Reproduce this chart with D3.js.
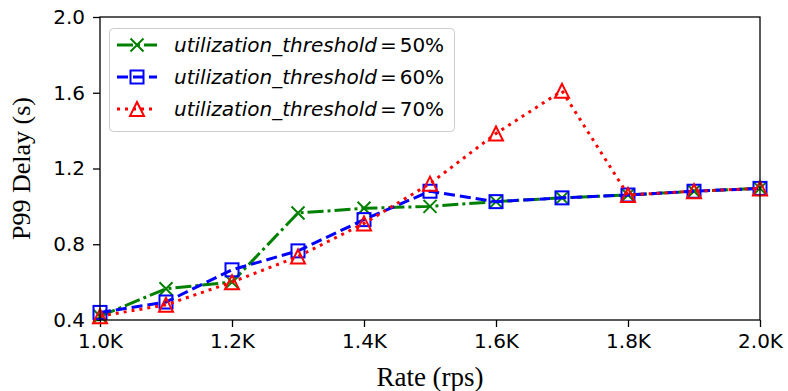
<!DOCTYPE html>
<html>
<head>
<meta charset="utf-8">
<script src="https://cdn.jsdelivr.net/npm/d3@7"></script>
<style>
  html, body { margin: 0; padding: 0; background: #fff; }
  svg { display: block; }
</style>
</head>
<body>
<svg id="chart" width="788" height="391"></svg>
<script>
// Request rate (K rps) on the x axis
const rates = [1.0, 1.1, 1.2, 1.3, 1.4, 1.5, 1.6, 1.7, 1.8, 1.9, 2.0];
// P99 delay (s) per utilization threshold
const delay50 = [0.42, 0.565, 0.60, 0.965, 0.99, 1.0, 1.025, 1.045, 1.06, 1.08, 1.095];
const delay60 = [0.44, 0.495, 0.665, 0.765, 0.93, 1.08, 1.025, 1.045, 1.06, 1.08, 1.095];
const delay70 = [0.42, 0.48, 0.60, 0.735, 0.91, 1.12, 1.385, 1.61, 1.06, 1.08, 1.095];
const seriesLabels = ["50%", "60%", "70%"];
const xTicks = [1.0, 1.2, 1.4, 1.6, 1.8, 2.0];
const yTicks = [0.4, 0.8, 1.2, 1.6, 2.0];

const svg = d3.select("#chart");
const plotLeft = 100, plotRight = 760, plotTop = 17, plotBottom = 320;

const x = d3.scaleLinear().domain([1.0, 2.0]).range([plotLeft, plotRight]);
const y = d3.scaleLinear().domain([0.4, 2.0]).range([plotBottom, plotTop]);

const series = [
  { values: delay50, color: "green", dash: "16,4,3,4", marker: "x", label: seriesLabels[0] },
  { values: delay60, color: "blue", dash: "11,5", marker: "square", label: seriesLabels[1] },
  { values: delay70, color: "red", dash: "3,5", marker: "triangle", label: seriesLabels[2] }
];

const tickFont = "DejaVu Sans, sans-serif";
const serifFont = "Liberation Serif, Times New Roman, serif";

// Axes
const xAxis = svg.append("g").attr("transform", `translate(0,${plotBottom})`)
  .call(d3.axisBottom(x).tickValues(xTicks).tickFormat(d => d.toFixed(1) + "K").tickSize(7).tickPadding(7));
const yAxis = svg.append("g").attr("transform", `translate(${plotLeft},0)`)
  .call(d3.axisLeft(y).tickValues(yTicks).tickFormat(d => d.toFixed(1)).tickSize(7).tickPadding(8));
[xAxis, yAxis].forEach(g => {
  g.selectAll("path.domain").remove();
  g.selectAll("line").attr("stroke", "#000").attr("stroke-width", 1.3);
  g.selectAll("text").attr("font-family", tickFont).attr("font-size", 20).attr("fill", "#000");
});

// Marker shapes
function drawMarker(g, kind, color, cx, cy) {
  if (kind === "x") {
    const s = 6.5;
    g.append("path")
      .attr("d", `M${cx - s},${cy - s}L${cx + s},${cy + s}M${cx - s},${cy + s}L${cx + s},${cy - s}`)
      .attr("stroke", color).attr("stroke-width", 2).attr("fill", "none");
  } else if (kind === "square") {
    const s = 6.5;
    g.append("rect").attr("x", cx - s).attr("y", cy - s).attr("width", 2 * s).attr("height", 2 * s)
      .attr("fill", "none").attr("stroke", color).attr("stroke-width", 2);
  } else {
    const s = 7;
    g.append("path")
      .attr("d", `M${cx},${cy - s}L${cx + s},${cy + s}L${cx - s},${cy + s}Z`)
      .attr("fill", "none").attr("stroke", color).attr("stroke-width", 2);
  }
}

const line = d3.line().x((d, i) => x(rates[i])).y(d => y(d));

const plot = svg.append("g");
series.forEach(s => {
  const g = plot.append("g");
  g.append("path").datum(s.values).attr("d", line)
    .attr("fill", "none").attr("stroke", s.color).attr("stroke-width", 3)
    .attr("stroke-dasharray", s.dash);
  s.values.forEach((v, i) => drawMarker(g, s.marker, s.color, x(rates[i]), y(v)));
});

// Frame
svg.append("rect").attr("x", plotLeft).attr("y", plotTop)
  .attr("width", plotRight - plotLeft).attr("height", plotBottom - plotTop)
  .attr("fill", "none").attr("stroke", "#000").attr("stroke-width", 1.3);

// Legend
const leg = svg.append("g");
leg.append("rect").attr("x", 109.5).attr("y", 28.5).attr("width", 345).attr("height", 103)
  .attr("rx", 4).attr("fill", "#fff").attr("fill-opacity", 0.8)
  .attr("stroke", "#cccccc").attr("stroke-width", 1);
series.forEach((s, i) => {
  const cy = 45 + i * 32;
  leg.append("line").attr("x1", 117).attr("x2", 157).attr("y1", cy).attr("y2", cy)
    .attr("stroke", s.color).attr("stroke-width", 3).attr("stroke-dasharray", s.dash);
  drawMarker(leg, s.marker, s.color, 137, cy);
  const t = leg.append("text").attr("x", 174).attr("y", cy + 7)
    .attr("font-family", tickFont).attr("font-size", 20).attr("fill", "#000");
  t.append("tspan").attr("font-style", "italic").text("utilization_threshold");
  t.append("tspan").attr("dx", 3).text("=");
  t.append("tspan").attr("dx", 3).text(s.label);
});

// Axis titles
svg.append("text").attr("x", (plotLeft + plotRight) / 2).attr("y", 386).attr("text-anchor", "middle")
  .attr("font-family", serifFont).attr("font-size", 27).text("Rate (rps)");
svg.append("text").attr("transform", `translate(30,${(plotTop + plotBottom) / 2}) rotate(-90)`)
  .attr("text-anchor", "middle")
  .attr("font-family", serifFont).attr("font-size", 26).text("P99 Delay (s)");
</script>
</body>
</html>
